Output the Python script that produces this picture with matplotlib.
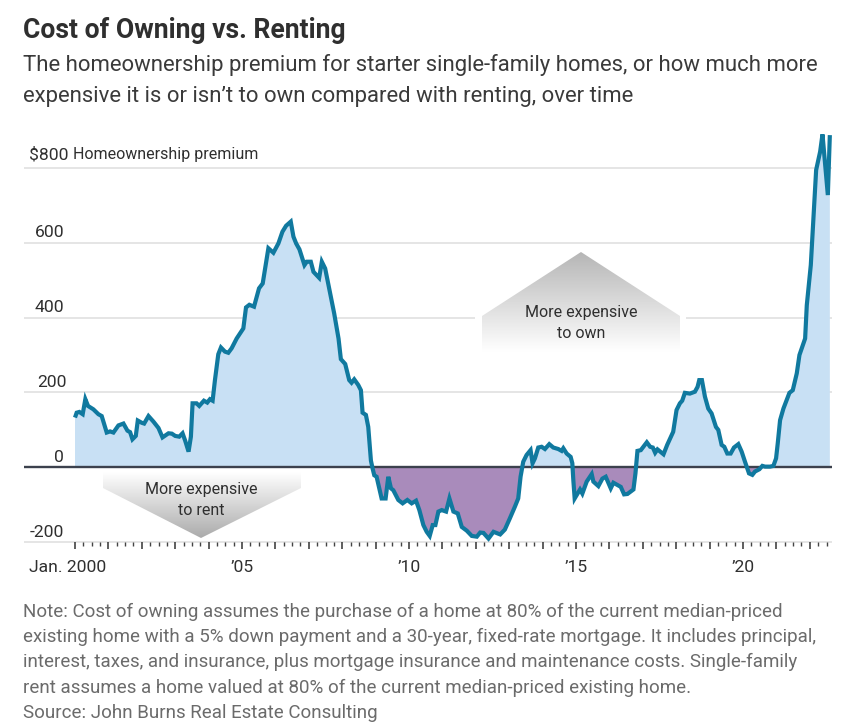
import numpy as np
import matplotlib
matplotlib.use("Agg")
import matplotlib.pyplot as plt
from matplotlib.patches import Polygon

FONT = ["Roboto", "DejaVu Sans"]

# decimal years
dates = [
    2000.00, 2000.05, 2000.13, 2000.23, 2000.31, 2000.39, 2000.55, 2000.70, 2000.80, 2000.95,
    2001.05, 2001.15, 2001.30, 2001.45, 2001.57, 2001.65, 2001.72, 2001.82, 2001.88, 2002.00,
    2002.07, 2002.20, 2002.35, 2002.50, 2002.62, 2002.80, 2002.90, 2003.00, 2003.12, 2003.22,
    2003.30, 2003.40, 2003.47, 2003.52, 2003.64, 2003.72, 2003.86, 2003.96, 2004.04, 2004.12,
    2004.19, 2004.29, 2004.37, 2004.49, 2004.59, 2004.69, 2004.84, 2005.04, 2005.12, 2005.22,
    2005.36, 2005.51, 2005.62, 2005.79, 2005.94, 2006.09, 2006.21, 2006.32, 2006.46, 2006.54,
    2006.62, 2006.72, 2006.87, 2006.94, 2007.06, 2007.14, 2007.31, 2007.39, 2007.49, 2007.64,
    2007.76, 2007.89, 2007.96, 2008.09, 2008.21, 2008.28, 2008.36, 2008.48, 2008.56, 2008.61,
    2008.71, 2008.78, 2008.86, 2008.91, 2008.96, 2009.03, 2009.18, 2009.30, 2009.38, 2009.46,
    2009.53, 2009.68, 2009.81, 2009.95, 2010.08, 2010.21, 2010.31, 2010.43, 2010.53, 2010.62,
    2010.71, 2010.79, 2010.88, 2010.98, 2011.11, 2011.21, 2011.33, 2011.46, 2011.58, 2011.73,
    2011.88, 2012.03, 2012.13, 2012.23, 2012.38, 2012.53, 2012.73, 2012.87, 2013.02, 2013.17,
    2013.27, 2013.34, 2013.42, 2013.52, 2013.64, 2013.70, 2013.77, 2013.87, 2013.97, 2014.07,
    2014.20, 2014.32, 2014.47, 2014.57, 2014.62, 2014.72, 2014.84, 2014.89, 2014.92, 2014.96,
    2015.12, 2015.19, 2015.32, 2015.47, 2015.52, 2015.67, 2015.79, 2015.89, 2016.04, 2016.12,
    2016.24, 2016.34, 2016.44, 2016.54, 2016.72, 2016.78, 2016.84, 2016.94, 2017.12, 2017.22,
    2017.30, 2017.37, 2017.44, 2017.62, 2017.73, 2017.91, 2018.01, 2018.11, 2018.18, 2018.26,
    2018.41, 2018.56, 2018.64, 2018.69, 2018.77, 2018.86, 2018.96, 2019.06, 2019.19, 2019.26,
    2019.36, 2019.44, 2019.53, 2019.63, 2019.73, 2019.86, 2019.96, 2020.06, 2020.18, 2020.28,
    2020.36, 2020.49, 2020.58, 2020.66, 2020.81, 2020.91, 2020.99, 2021.04, 2021.11, 2021.21,
    2021.31, 2021.39, 2021.49, 2021.61, 2021.69, 2021.86, 2021.91, 2022.03, 2022.11, 2022.19,
    2022.31, 2022.38, 2022.54, 2022.60,
]
premium = [
    133, 146, 148, 142, 182, 164, 155, 142, 137, 93,
    96, 93, 112, 117, 98, 94, 75, 84, 125, 119,
    117, 137, 122, 105, 80, 91, 90, 84, 82, 91,
    71, 42, 82, 171, 171, 164, 178, 173, 182, 178,
    233, 302, 320, 309, 306, 318, 344, 371, 427, 434,
    429, 478, 491, 585, 573, 598, 629, 645, 656, 616,
    598, 582, 540, 549, 549, 522, 506, 549, 531, 464,
    411, 344, 289, 276, 233, 226, 235, 220, 206, 146,
    140, 108, 18, -3, -21, -25, -83, -83, -25, -56,
    -61, -87, -96, -87, -96, -89, -114, -154, -172, -183,
    -154, -154, -118, -114, -118, -83, -118, -123, -159, -169,
    -183, -185, -174, -175, -190, -172, -179, -166, -136, -105,
    -83, -25, 15, 33, 46, 11, 24, 53, 55, 49,
    62, 53, 49, 44, 51, 37, 28, 11, -34, -83,
    -59, -70, -38, -18, -38, -50, -30, -25, -56, -41,
    -47, -52, -72, -71, -59, -16, 44, 46, 67, 55,
    53, 39, 48, 35, 60, 95, 153, 171, 178, 199,
    197, 202, 215, 233, 233, 189, 157, 144, 108, 100,
    60, 55, 37, 37, 53, 62, 42, 15, -16, -20,
    -11, -5, 4, 2, 2, 4, 24, 64, 126, 157,
    180, 199, 206, 251, 300, 344, 433, 540, 665, 794,
    843, 889, 727, 887,
]

grid_vals = [800, 600, 200, -200]
y_labels = ["$800", "600", "400", "200", "0", "-200"]
x_labels = ["Jan. 2000", "’05", "’10", "’15", "’20"]
x_label_years = [2000, 2005, 2010, 2015, 2020]

TITLE = "Cost of Owning vs. Renting"
SUB = ["The homeownership premium for starter single-family homes, or how much more",
       "expensive it is or isn’t to own compared with renting, over time"]
NOTE = ["Note: Cost of owning assumes the purchase of a home at 80% of the current median-priced",
        "existing home with a 5% down payment and a 30-year, fixed-rate mortgage. It includes principal,",
        "interest, taxes, and insurance, plus mortgage insurance and maintenance costs. Single-family",
        "rent assumes a home valued at 80% of the current median-priced existing home.",
        "Source: John Burns Real Estate Consulting"]

W, H = 851, 727
fig = plt.figure(figsize=(W / 100, H / 100), dpi=100, facecolor="white")

# px <-> data: 33.4 px per year from x=75, 0.3745 px per dollar from y=467.3
L, R, T, B = 24, 832, 130, 542.3
ax = fig.add_axes([L / W, 1 - B / H, (R - L) / W, (B - T) / H])
ax.set_xlim(2000 + (L - 75) / 33.4, 2000 + (R - 75) / 33.4)
ax.set_ylim(-200, (467.3 - T) / 0.3745)
for s in ax.spines.values():
    s.set_visible(False)

x = np.array(dates)
y = np.array(premium, dtype=float)

GRID = "#e3e3e3"
ax.hlines(grid_vals, ax.get_xlim()[0], ax.get_xlim()[1], color=GRID, lw=1.3, zorder=1, clip_on=False)
# the 400 line breaks around the label arrow
ax.hlines(400, ax.get_xlim()[0], 2000 + (475 - 75) / 33.4, color=GRID, lw=1.3, zorder=1)
ax.hlines(400, 2000 + (686 - 75) / 33.4, ax.get_xlim()[1], color=GRID, lw=1.3, zorder=1)

ax.fill_between(x, y, 0, where=y >= 0, interpolate=True, color="#c8e0f4", lw=0, zorder=2)
ax.fill_between(x, y, 0, where=y <= 0, interpolate=True, color="#a98bbb", lw=0, zorder=2)
ax.axhline(0, color="#3c414d", lw=1.7, zorder=3)
ax.plot(x, y, color="#10799f", lw=3.0, solid_joinstyle="miter", solid_capstyle="butt",
        zorder=4, clip_on=False)

# quarterly ticks, taller on the year
ax.set_xticks(np.arange(2000, 2023))
ax.set_xticks(np.arange(2000, 2022.6, 0.25), minor=True)
ax.set_yticks([])
ax.set_xticklabels([])
ax.tick_params(axis="x", which="major", length=5.2, width=1.1, color="#333333", pad=0)
ax.tick_params(axis="x", which="minor", length=3.2, width=1.0, color="#444444", pad=0)

# overlay in image pixels for text and the label arrows
ov = fig.add_axes([0, 0, 1, 1], facecolor="none")
ov.axis("off")


def arrow(pts, y0, y1, c0, c1):
    xs = [p[0] for p in pts]
    g = np.linspace(0, 1, 128).reshape(-1, 1)
    cmap = matplotlib.colors.LinearSegmentedColormap.from_list("g", [c0, c1])
    im = ov.imshow(g, extent=[min(xs), max(xs), y1, y0], cmap=cmap, aspect="auto", zorder=5, vmin=0, vmax=1)
    im.set_clip_path(Polygon(pts, closed=True, transform=ov.transData))


ov.set_xlim(0, W)
ov.set_ylim(H, 0)
arrow([(103, 472), (301, 472), (301, 488), (201, 538), (103, 488)], 472, 538, "#ffffff", "#ababab")
arrow([(581, 252), (680, 316), (680, 352), (482, 352), (482, 316)], 252, 352, "#b6b6b6", "#ffffff")
ov.set_xlim(0, W)
ov.set_ylim(H, 0)

INK = "#2f2f2f"


def label(px, py, s, size, ha="center", color=INK, weight="normal"):
    ov.text(px, py, s, fontsize=size, ha=ha, va="center_baseline", family=FONT, color=color,
            weight=weight, zorder=6)


for s, px, py in zip(y_labels, [69, 64, 64, 67, 64, 64], [153, 231, 306, 381, 456, 531]):
    label(px, py, s, 12.6, ha="right")
label(73, 153, "Homeownership premium", 11.55, ha="left")
for s, yr, off in zip(x_labels, x_label_years, [-7, 0, 0, 0, 0]):
    label(75 + (yr - 2000) * 33.4 + off, 566, s, 12.6)

label(201, 488, "More expensive", 11.55)
label(201, 509, "to rent", 11.55)
label(581, 311, "More expensive", 11.55)
label(581, 332, "to own", 11.55)

label(23, 28, TITLE, 19.1, ha="left", weight="bold")
for s, py in zip(SUB, [63, 94]):
    label(23, py, s, 15.9, ha="left", color="#3a3a3a")
for s, py in zip(NOTE, [610, 635, 660, 686, 711]):
    label(23, py, s, 13.5, ha="left", color="#6b6b6b")

fig.savefig("out.png", dpi=100)
